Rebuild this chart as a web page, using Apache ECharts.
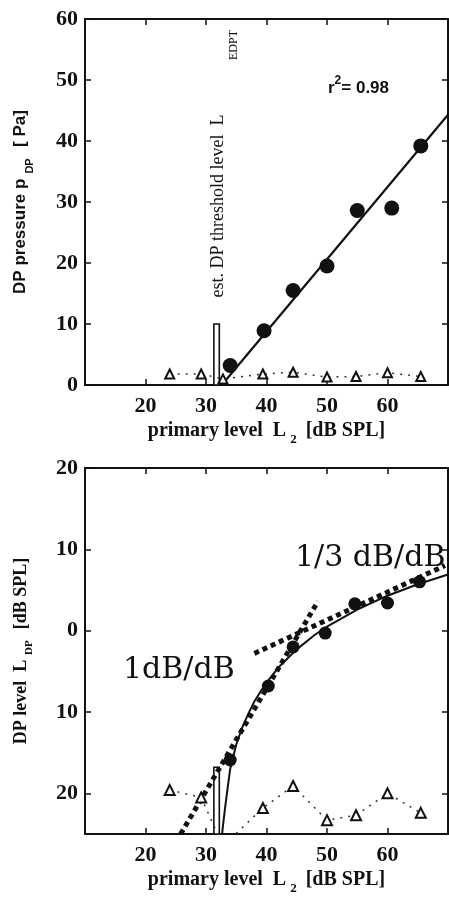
<!DOCTYPE html>
<html><head><meta charset="utf-8">
<script src="https://cdn.jsdelivr.net/npm/echarts@6/dist/echarts.min.js"></script>
<style>html,body{margin:0;padding:0;background:#fff}#c{width:449px;height:899px}</style>
</head><body><div id="c"></div>
<script>
// ---- tick labels ----
const xTicks = [20, 30, 40, 50, 60];
const pressYTicks = [0, 10, 20, 30, 40, 50, 60];
const levelYTicks = [-20, -10, 0, 10, 20];
const levelYTickLabels = ['20', '10', '0', '10', '20'];

// ---- top panel: DP pressure ----
const pressX = [34, 39.6, 44.4, 50, 55, 60.7, 65.5];
const pressY = [3.2, 8.9, 15.5, 19.5, 28.6, 29.0, 39.2];
const fitX = [32.6, 70];
const fitY = [0, 44.3];
const noiseX = [24, 29.2, 32.8, 39.4, 44.4, 50, 54.8, 60, 65.5];
const noiseP = [1.8, 1.8, 1.0, 1.8, 2.1, 1.3, 1.4, 2.0, 1.4];
const thrBarX = [31.3, 32.2];
const thrBarP = [0, 10];

// ---- bottom panel: DP level ----
const levelX = [34, 40.3, 44.4, 49.7, 54.6, 60, 65.3];
const levelY = [-15.9, -6.8, -2.0, -0.3, 3.3, 3.4, 6.0];
const curveX = [32.6, 32.8, 33.2, 33.6, 34, 35, 36, 37, 38, 39, 40, 42, 45, 48, 50, 55, 60, 65, 70];
const curveY = [-25.5, -24.0, -21.5, -19.2, -17.0, -14.0, -11.9, -10.2, -8.7, -7.5, -6.4, -4.5, -2.3, -0.5, 0.5, 2.6, 4.3, 5.7, 6.9];
const slope1X = [25.8, 48.5];
const slope1Y = [-25, 3.6];
const slope3X = [38, 69.5];
const slope3Y = [-2.8, 8.0];
const noiseL = [-19.6, -20.5, -26.5, -21.8, -19.1, -23.3, -22.7, -20.0, -22.4];
const thrBarL = [-25, -16.8];

const zip = (a, b) => a.map((v, i) => [v, b[i]]);
const serif = 'Liberation Serif';
const tickFont = { fontFamily: serif, fontWeight: 'bold', fontSize: 22, color: '#111' };
const axisLineStyle = { onZero: false, lineStyle: { color: '#111', width: 2 } };
const tickStyle = { inside: true, length: 6, lineStyle: { color: '#111', width: 1.5 } };

function xAxisPair(gridIndex) {
  return [
    {
      gridIndex, type: 'value', min: 10, max: 70, interval: 10, position: 'bottom',
      axisLine: axisLineStyle, axisTick: tickStyle, splitLine: { show: false },
      axisLabel: Object.assign({ margin: 10, showMinLabel: false, showMaxLabel: false }, tickFont),
      name: '{a|primary level  L}{s|2}{a| [dB SPL]}',
      nameLocation: 'middle', nameGap: 36,
      nameTextStyle: {
        rich: {
          a: { fontFamily: serif, fontWeight: 'bold', fontSize: 20, color: '#111', verticalAlign: 'top' },
          s: { fontFamily: serif, fontWeight: 'bold', fontSize: 13, color: '#111', padding: [12, 4, 0, 4], verticalAlign: 'top' }
        }
      }
    },
    {
      gridIndex, type: 'value', min: 10, max: 70, interval: 10, position: 'top',
      axisLine: axisLineStyle, axisTick: tickStyle, splitLine: { show: false },
      axisLabel: { show: false }
    }
  ];
}

const option = {
  animation: false,
  backgroundColor: '#fff',
  grid: [
    { left: 85, top: 19, width: 363, height: 366 },
    { left: 85, top: 468, width: 363, height: 366 }
  ],
  xAxis: [...xAxisPair(0), ...xAxisPair(1)],
  yAxis: [
    {
      gridIndex: 0, type: 'value', min: 0, max: 60, interval: 10, position: 'left',
      axisLine: axisLineStyle, axisTick: tickStyle, splitLine: { show: false },
      axisLabel: Object.assign({ margin: 7, customValues: pressYTicks }, tickFont),
      name: '{a|DP pressure p}{s| DP}{a|  [ Pa]}',
      nameLocation: 'middle', nameGap: 50,
      nameTextStyle: {
        rich: {
          a: { fontFamily: 'Liberation Sans', fontWeight: 'bold', fontSize: 17, color: '#111', verticalAlign: 'top' },
          s: { fontFamily: 'Liberation Sans', fontWeight: 'bold', fontSize: 11, color: '#111', padding: [12, 2, 0, 2], verticalAlign: 'top' }
        }
      }
    },
    {
      gridIndex: 0, type: 'value', min: 0, max: 60, interval: 10, position: 'right',
      axisLine: axisLineStyle, axisTick: tickStyle, splitLine: { show: false }, axisLabel: { show: false }
    },
    {
      gridIndex: 1, type: 'value', min: -25, max: 20, position: 'left',
      axisLine: axisLineStyle, splitLine: { show: false },
      axisTick: Object.assign({ customValues: levelYTicks }, tickStyle),
      axisLabel: Object.assign({
        margin: 7, customValues: levelYTicks,
        formatter: v => levelYTickLabels[levelYTicks.indexOf(v)]
      }, tickFont),
      name: '{a|DP level  L}{s| DP}{a|  [dB SPL]}',
      nameLocation: 'middle', nameGap: 50,
      nameTextStyle: {
        rich: {
          a: { fontFamily: serif, fontWeight: 'bold', fontSize: 18, color: '#111', verticalAlign: 'top' },
          s: { fontFamily: serif, fontWeight: 'bold', fontSize: 11, color: '#111', padding: [12, 2, 0, 2], verticalAlign: 'top' }
        }
      }
    },
    {
      gridIndex: 1, type: 'value', min: -25, max: 20, position: 'right',
      axisLine: axisLineStyle, splitLine: { show: false },
      axisTick: Object.assign({ customValues: levelYTicks }, tickStyle), axisLabel: { show: false }
    }
  ],
  series: [
    // ---- top panel ----
    {
      type: 'custom', xAxisIndex: 0, yAxisIndex: 0,
      data: [[thrBarX[0], thrBarX[1], thrBarP[0], thrBarP[1]]],
      encode: { x: [0, 1], y: [2, 3] },
      renderItem: (params, api) => {
        const p0 = api.coord([api.value(0), api.value(2)]);
        const p1 = api.coord([api.value(1), api.value(3)]);
        return { type: 'rect', shape: { x: p0[0], y: p1[1], width: p1[0] - p0[0], height: p0[1] - p1[1] },
          style: { fill: '#fff', stroke: '#111', lineWidth: 1.6 } };
      }
    },
    {
      type: 'line', xAxisIndex: 0, yAxisIndex: 0, data: zip(fitX, fitY),
      symbol: 'none', lineStyle: { color: '#111', width: 2.2 }
    },
    {
      type: 'line', xAxisIndex: 0, yAxisIndex: 0, data: zip(noiseX, noiseP),
      symbol: 'emptyTriangle', symbolSize: 9, itemStyle: { color: '#111', borderWidth: 1.5 },
      lineStyle: { color: '#333', width: 1.5, type: [2, 6] }
    },
    {
      type: 'scatter', xAxisIndex: 0, yAxisIndex: 0, data: zip(pressX, pressY),
      symbol: 'circle', symbolSize: 15, itemStyle: { color: '#111', opacity: 1 }
    },
    // ---- bottom panel ----
    {
      type: 'custom', xAxisIndex: 2, yAxisIndex: 2,
      data: [[thrBarX[0], thrBarX[1], thrBarL[0], thrBarL[1]]],
      encode: { x: [0, 1], y: [2, 3] },
      renderItem: (params, api) => {
        const p0 = api.coord([api.value(0), api.value(2)]);
        const p1 = api.coord([api.value(1), api.value(3)]);
        return { type: 'rect', shape: { x: p0[0], y: p1[1], width: p1[0] - p0[0], height: p0[1] - p1[1] },
          style: { fill: '#fff', stroke: '#111', lineWidth: 1.6 } };
      }
    },
    {
      type: 'line', xAxisIndex: 2, yAxisIndex: 2, data: zip(slope1X, slope1Y),
      symbol: 'none', lineStyle: { color: '#111', width: 5, type: [5, 4], cap: 'butt' }
    },
    {
      type: 'line', xAxisIndex: 2, yAxisIndex: 2, data: zip(slope3X, slope3Y),
      symbol: 'none', lineStyle: { color: '#111', width: 5, type: [5, 4], cap: 'butt' }
    },
    {
      type: 'line', xAxisIndex: 2, yAxisIndex: 2, data: zip(curveX, curveY), clip: true,
      symbol: 'none', lineStyle: { color: '#111', width: 2 }
    },
    {
      type: 'line', xAxisIndex: 2, yAxisIndex: 2, data: zip(noiseX, noiseL), clip: true,
      symbol: 'emptyTriangle', symbolSize: 10, itemStyle: { color: '#111', borderWidth: 1.5 },
      lineStyle: { color: '#333', width: 1.5, type: [2, 6] }
    },
    {
      type: 'scatter', xAxisIndex: 2, yAxisIndex: 2, data: zip(levelX, levelY),
      symbol: 'circle', symbolSize: 13, itemStyle: { color: '#111', opacity: 1 }
    }
  ],
  graphic: [
    {
      type: 'text', x: 328, y: 86,
      style: {
        text: '{a|r}{p|2}{a|= 0.98}',
        verticalAlign: 'middle', align: 'left',
        rich: {
          a: { fontFamily: 'Liberation Sans', fontWeight: 'bold', fontSize: 17, fill: '#111', verticalAlign: 'bottom' },
          p: { fontFamily: 'Liberation Sans', fontWeight: 'bold', fontSize: 12, fill: '#111', padding: [0, 0, 10, 0], verticalAlign: 'bottom' }
        }
      }
    },
    {
      type: 'text', x: 218, y: 206, rotation: Math.PI / 2,
      style: { text: 'est. DP threshold level  L', align: 'center', verticalAlign: 'middle',
        fontFamily: serif, fontSize: 18, fill: '#111' }
    },
    {
      type: 'text', x: 234, y: 45, rotation: Math.PI / 2,
      style: { text: 'EDPT', align: 'center', verticalAlign: 'middle',
        fontFamily: serif, fontSize: 12, fill: '#111' }
    },
    {
      type: 'text', x: 295, y: 558,
      style: { text: '1/3 dB/dB', align: 'left', verticalAlign: 'middle',
        fontFamily: 'DejaVu Serif', fontSize: 30, fill: '#111' }
    },
    {
      type: 'text', x: 123, y: 670,
      style: { text: '1dB/dB', align: 'left', verticalAlign: 'middle',
        fontFamily: 'DejaVu Serif', fontSize: 30, fill: '#111' }
    }
  ]
};

const chart = echarts.init(document.getElementById('c'), null, { renderer: 'canvas' });
chart.setOption(option);
</script>
</body></html>
